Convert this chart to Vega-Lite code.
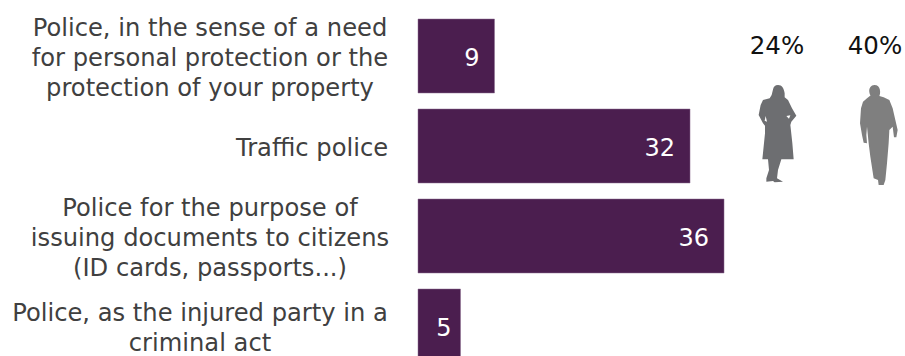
{
  "$schema": "https://vega.github.io/schema/vega-lite/v6.json",
  "width": 487,
  "height": 360,
  "autosize": {"type": "none"},
  "padding": {"left": 418, "top": 11, "right": 0, "bottom": 0},
  "background": "white",
  "config": {"view": {"stroke": null}, "font": "DejaVu Sans"},
  "resolve": {"scale": {"x": "independent"}},
  "layer": [
    {
      "data": {"name": "reasons", "values": [
        {"reason": "Police, in the sense of a need\nfor personal protection or the\nprotection of your property", "value": 9},
        {"reason": "Traffic police", "value": 32},
        {"reason": "Police for the purpose of\nissuing documents to citizens\n(ID cards, passports...)", "value": 36},
        {"reason": "Police, as the injured party in a\ncriminal act", "value": 5}
      ]},
      "transform": [{"calculate": "split(datum.reason, '\\n')", "as": "lines"}],
      "layer": [
        {
          "mark": {"type": "bar", "color": "#4b1e4f", "stroke": "#8d6f90", "strokeWidth": 0.5},
          "encoding": {
            "x": {"field": "value", "type": "quantitative", "axis": null, "scale": {"domain": [0, 57.29], "nice": false, "zero": true}},
            "y": {
              "field": "reason",
              "type": "nominal",
              "sort": null,
              "axis": null,
              "scale": {
                "domain": [
                  "Police, in the sense of a need\nfor personal protection or the\nprotection of your property",
                  "Traffic police",
                  "Police for the purpose of\nissuing documents to citizens\n(ID cards, passports...)",
                  "Police, as the injured party in a\ncriminal act"
                ],
                "paddingInner": 0.178,
                "paddingOuter": 0.089
              }
            }
          }
        },
        {
          "mark": {"type": "text", "color": "white", "align": "right", "baseline": "middle", "fontSize": 24, "dy": 3, "dx": {"expr": "datum.value < 6 ? -9 : -15"}},
          "encoding": {
            "x": {"field": "value", "type": "quantitative", "axis": null, "scale": {"domain": [0, 57.29], "nice": false, "zero": true}},
            "y": {"field": "reason", "type": "nominal", "sort": null, "axis": null},
            "text": {"field": "value", "type": "quantitative"}
          }
        },
        {
          "mark": {
            "type": "text",
            "color": "#404040",
            "align": "center",
            "baseline": "middle",
            "fontSize": 24.2,
            "lineHeight": 29.7,
            "dx": {"expr": "indexof(datum.reason, 'Traffic') >= 0 ? -106 : indexof(datum.reason, 'injured') >= 0 ? -218 : -208"},
            "dy": {"expr": "3 - (length(datum.lines) - 1) * 14.85"}
          },
          "encoding": {
            "x": {"datum": 0, "type": "quantitative", "axis": null, "scale": {"domain": [0, 57.29], "nice": false, "zero": true}},
            "y": {"field": "reason", "type": "nominal", "sort": null, "axis": null},
            "text": {"field": "lines", "type": "nominal"}
          }
        }
      ]
    },
    {
      "data": {"name": "gender", "values": [
        {"gender": "Women", "share": "24%"},
        {"gender": "Men", "share": "40%"}
      ]},
      "layer": [
        {
          "mark": {"type": "text", "color": "#111111", "align": "center", "baseline": "middle", "fontSize": 24.5, "dy": -9},
          "encoding": {
            "x": {"field": "gender", "type": "nominal", "axis": null, "sort": null, "scale": {"type": "point", "domain": ["Women", "Men"], "range": [359, 457], "padding": 0}},
            "y": {"datum": "Police, in the sense of a need\nfor personal protection or the\nprotection of your property", "type": "nominal"},
            "text": {"field": "share", "type": "nominal"}
          }
        },
        {
          "mark": {"type": "point", "filled": true, "opacity": 1, "size": 10000, "strokeWidth": 0},
          "encoding": {
            "x": {"field": "gender", "type": "nominal", "axis": null, "sort": null, "scale": {"type": "point", "domain": ["Women", "Men"], "range": [359, 457], "padding": 0}},
            "y": {"datum": "Traffic police", "type": "nominal"},
            "color": {"field": "gender", "type": "nominal", "legend": null, "scale": {"domain": ["Women", "Men"], "range": ["#6d6e71", "#7f7f7f"]}},
            "shape": {
              "field": "gender",
              "type": "nominal",
              "legend": null,
              "scale": {
                "domain": ["Women", "Men"],
                "range": [
                  "M.02 -1.22C-.04 -1.22 -.067 -1.19 -.08 -1.13L-.107 -1.02L-.147 -.953L-.28 -.92L-.327 -.82L-.367 -.62L-.28 -.453L-.24 -.407L-.24 -.253L-.293 .267L-.18 .267L-.16 .48L-.213 .647L-.213 .713L-.08 .7L-.047 .727L.12 .713L0 .647L.02 .48L.087 .267L.333 .267L.307 -.053L.267 -.42L.287 -.487L.387 -.607L.3 -.753L.22 -.92L.153 -.973L.153 -1.053C.14 -1.15 .1 -1.22 .02 -1.22ZM.187 -.6L.267 -.613L.24 -.547ZM-.227 -.6L-.2 -.487L-.247 -.507Z",
                  "M-.013 -1.22C-.08 -1.22 -.12 -1.16 -.115 -1.09C-.112 -1.05 -.1 -1.03 -.09 -1.01L-.16 -.953L-.24 -.887L-.28 -.753L-.3 -.453L-.26 -.22L-.227 -.067L-.16 -.053L-.173 -.22L-.16 -.387L-.127 -.053L-.093 .213L-.047 .513L-.027 .647L.06 .68L.073 .78L.173 .78L.207 .68L.24 .347L.273 -.053L.287 -.32L.353 -.387L.38 -.173L.427 -.173L.453 -.32L.407 -.52L.353 -.753L.287 -.92L.173 -.973L.087 -1C.115 -1.05 .12 -1.22 -.013 -1.22Z"
                ]
              }
            }
          }
        }
      ]
    }
  ]
}
